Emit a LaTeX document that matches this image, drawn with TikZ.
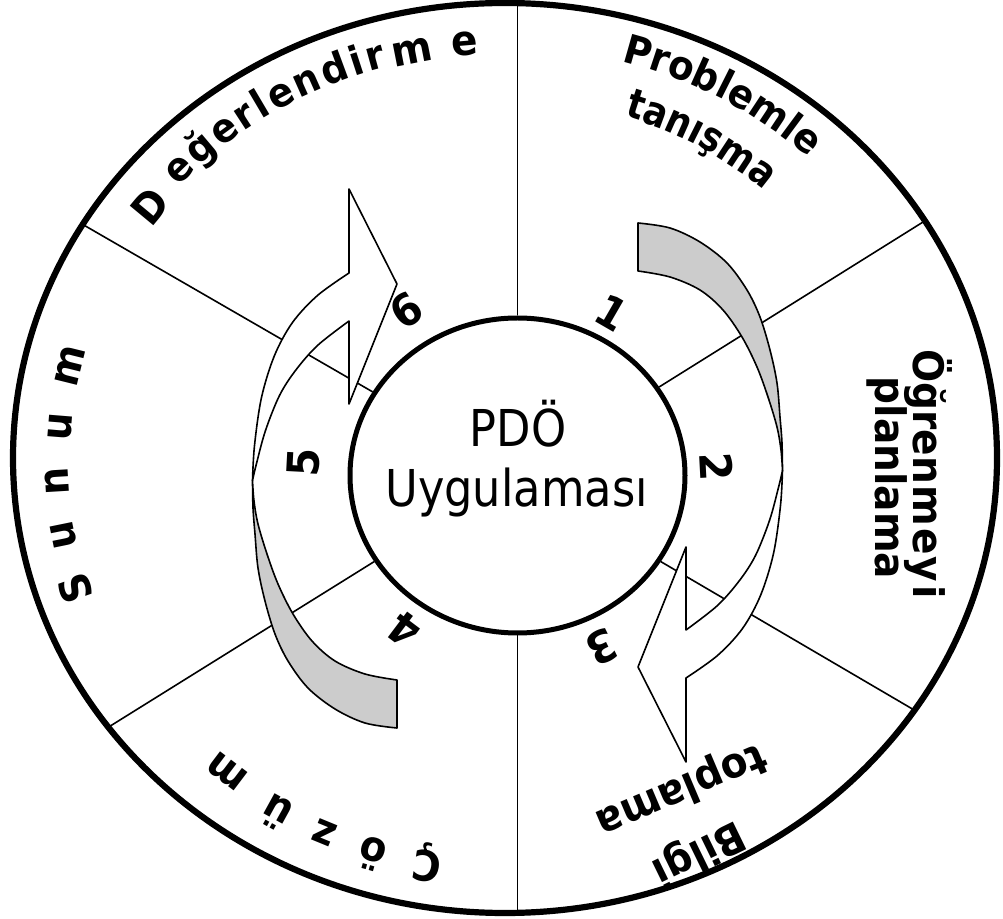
\documentclass[tikz,border=0pt]{standalone}
\usepackage{fontspec}
\newfontfamily\labfont{DejaVu Sans}[FakeStretch=0.93]
\newfontfamily\labfontN{DejaVu Sans}[FakeStretch=0.86]
\newfontfamily\ttlfont{DejaVu Sans}[FakeStretch=0.88]
\newcommand\curvefont{\labfont\bfseries\fontsize{20}{24}\selectfont}
\newcommand\curvefontS{\labfontN\bfseries\fontsize{20.5}{24}\selectfont}
\usetikzlibrary{shapes.geometric,decorations.text}
\newcommand\RibbonArrow{%
 \filldraw[back] (120.5,-252.5) -- plot[smooth,tension=0.55] coordinates {(120.5,-252.5) (152.5,-247.5) (182.5,-233.5) (209.5,-212.5) (229.5,-185.5) (242.5,-158.5) (252.5,-125.5) (259.5,-92.5) (262.5,-58.5) (264.5,-32.5) (265,-5)} -- plot[smooth,tension=0.55] coordinates {(265,-5) (263.5,-25.5) (259.5,-48.5) (250.5,-78.5) (239.5,-108.5) (224.5,-138.5) (205.5,-165.5) (182.5,-185.5) (152.5,-198.5) (120.5,-204.5)} -- cycle;
 \filldraw[front] (265,-5) -- plot[smooth,tension=0.55] coordinates {(265,-5) (263,30) (256,78) (243,120) (225,153) (200,180) (168.5,202.5)} -- (168.5,286.5) -- (120.5,191.5) -- (168.5,71.5) -- (168.5,154.5) -- plot[smooth,tension=0.55] coordinates {(168.5,154.5) (200,130) (222,105) (238,80) (252,45) (261,12) (265,-5)} -- cycle;
}
\begin{document}
\begin{tikzpicture}[x=0.5pt,y=-0.5pt,
  lab/.style={font=\labfont\bfseries\fontsize{21}{25}\selectfont, inner sep=0pt, outer sep=0pt},
  num/.style={font=\labfont\bfseries\fontsize{22}{26}\selectfont, inner sep=0pt},
  ttl/.style={font=\ttlfont\fontsize{25.4}{30}\selectfont, inner sep=0pt, anchor=base},
  spoke/.style={line width=0.8pt},
  rib/.style={line width=0.8pt, line join=round},
  back/.style={rib, fill=black!20, draw=black},
  front/.style={rib, fill=white, draw=black},
  arctext/.style={decorate, decoration={text along path, text align=fit to path, text={#1}}},
  arctextc/.style={decorate, decoration={text along path, text align=center, text={#1}}}]
\useasboundingbox (0,0) rectangle (1003,919);
\fill[white] (0,0) rectangle (1003,919);
\coordinate (C) at (517.5,475.5);
% outer ring and hub
\node[draw, ellipse, line width=3.1pt, minimum width=492pt, minimum height=455pt, inner sep=0pt] (ring) at (505,458) {};
\node[draw, ellipse, line width=2.5pt, minimum width=167.5pt, minimum height=157.5pt, inner sep=0pt, fill=white] (hub) at (C) {};
% spoke ends on the ring
\coordinate (eT) at (517.5,3.2);
\coordinate (eB) at (517.5,912.8);
\coordinate (eUR) at (925,220.8);
\coordinate (eUL) at (82.8,224.5);
\coordinate (eLL) at (108.7,727);
\coordinate (eLR) at (914.3,710.1);
\draw[spoke] (hub.north) -- (eT);
\draw[spoke] (hub.south) -- (eB);
\draw[spoke] (hub.32) -- (eUR);
\draw[spoke] (hub.150) -- (eUL);
\draw[spoke] (hub.211.6) -- (eLL);
\draw[spoke] (hub.329.4) -- (eLR);
% ribbon arrows
\begin{scope}[shift={(C)}] \RibbonArrow \end{scope}
\begin{scope}[shift={(C)}, rotate=180] \RibbonArrow \end{scope}
% centre title
\node[ttl] (title1) at (518,446.7) {PDÖ};
\node[ttl] (title2) at (516.5,506.7) {Uygulaması};
% step numbers
\node[num, rotate=-30] (n1) at (611.7,312.5) {1};
\node[num, rotate=-87] (n2) at (716.7,466.7) {2};
\node[num, rotate=-154] (n3) at (601.7,647.3) {3};
\node[num, rotate=143] (n4) at (404,630) {4};
\node[num, rotate=87] (n5) at (304,462) {5};
\node[num, rotate=34] (n6) at (406.7,310.5) {6};
% curved labels
\path[arctext={|\curvefont|eğerlendir}] plot[domain=138:105.6, samples=50] ({505+0.893*492*cos(\x)},{458-0.893*455*sin(\x)});
\path[arctextc={|\curvefont|Problemle}] plot[domain=80.75:40.75, samples=60] ({505+0.903*492*cos(\x)},{458-0.903*455*sin(\x)});
\path[arctextc={|\curvefontS|tanışma}] plot[domain=80:40, samples=60] ({505+0.79*492*cos(\x)},{458-0.79*455*sin(\x)});
\foreach \ch/\x/\y [count=\i] in {D/150/206, m/412/52, e/465/44, S/75/588, u/64/535, n/57/481, u/60/427, m/70/366, Ç/428/863, ö/372/854, z/325/833, ü/277/813, m/227/772}{
  \pgfmathsetmacro\rot{atan2((458-\y)*1.1692,\x-505)-90}
  \node[lab, rotate=\rot] (let\i) at (\x,\y) {\ch};
}
% straight labels
\node[lab, rotate=-90] (ogr) at (928,474) {Öğren\hspace{1pt}m\hspace{1pt}e\hspace{1pt}y\hspace{1.5pt}i};
\node[lab, rotate=-90] (pla) at (887,478) {planlama};
\node[lab, rotate=206] (bil) at (698,852) {Bilgi};
\node[lab, rotate=203] (top) at (681,789) {toplama};
\end{tikzpicture}
\end{document}
